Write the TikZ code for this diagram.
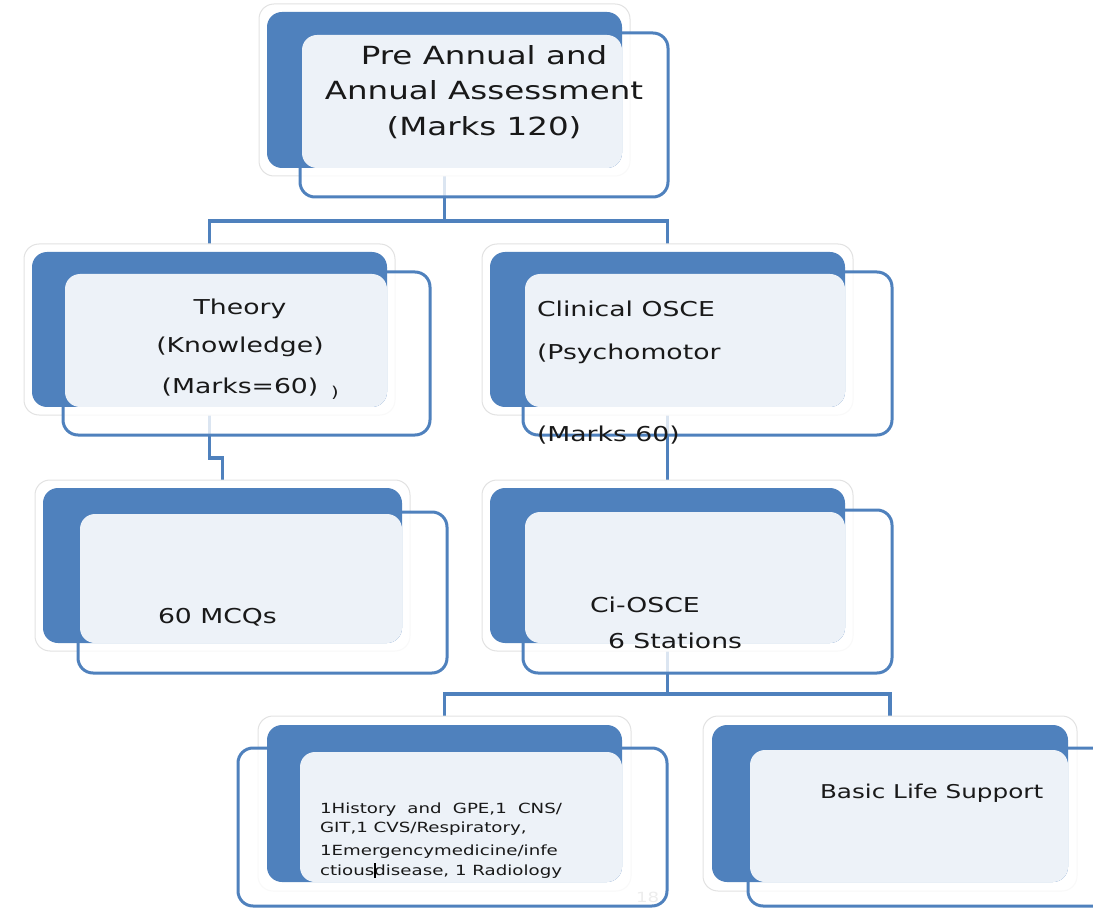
\documentclass[tikz,border=0pt]{standalone}
\usepackage{fontspec}
\setmainfont{DejaVu Sans}[FakeStretch=1.3]
\usetikzlibrary{fit,backgrounds}
\definecolor{ofblue}{RGB}{79,129,189}
\definecolor{panefill}{RGB}{237,242,248}
\definecolor{txt}{RGB}{25,25,25}
\definecolor{halo}{RGB}{226,226,226}
\tikzset{
  box/.style={inner sep=0pt, outer sep=0pt, rounded corners=15pt},
  glow/.style={box, fill=white, draw=halo, line width=1pt},
  back/.style={box, fill=ofblue},
  front/.style={box, draw=ofblue, line width=3pt, fill=white, fill opacity=0.8},
  pane/.style={box, fill=panefill},
  conn/.style={draw=ofblue, line width=3.5pt},
  lbl/.style={inner sep=0pt, outer sep=0pt, text=txt, anchor=base west},
  clbl/.style={lbl, anchor=base},
  big/.style={font=\fontsize{25}{30}\selectfont},
  mid/.style={font=\fontsize{20.5}{25}\selectfont},
  small/.style={font=\fontsize{14}{17}\selectfont},
}
\begin{document}
\begin{tikzpicture}[x=1pt,y=-1pt]
\useasboundingbox (0,0) rectangle (1093,909);
\clip (0,0) rectangle (1093,909);

% each box: halo, front frame, blue back plate, light pane, text

% top level
\node[glow,  fit={(259,4)(630,176)}]   (topG) {};
\node[front, fit={(300,33)(668,197)}]  (topF) {};
\node[back,  fit={(267,12)(622,168)}]  (topB) {};
\node[pane,  fit={(302,35)(622,168)}]  (topP) {};
\node[clbl, big] (topT1) at (484,65)  {Pre Annual and};
\node[clbl, big] (topT2) at (484,100) {Annual Assessment};
\node[clbl, big] (topT3) at (484,136) {(Marks 120)};

% theory
\node[glow,  fit={(24,244)(395,415)}]  (thG) {};
\node[front, fit={(63,272)(430,435)}]  (thF) {};
\node[back,  fit={(32,252)(387,407)}]  (thB) {};
\node[pane,  fit={(65,274)(387,407)}]  (thP) {};
\node[clbl, mid] (thT1) at (240,315) {Theory};
\node[clbl, mid] (thT2) at (240,353) {(Knowledge)};
\node[clbl, mid] (thT3) at (240,393) {(Marks=60)};
\node[lbl, font=\fontsize{15}{18}\selectfont] (thT4) at (331,398) {)};

% clinical
\node[glow,  fit={(482,244)(853,415)}] (clG) {};
\node[front, fit={(523,272)(892,435)}] (clF) {};
\node[back,  fit={(490,252)(845,407)}] (clB) {};
\node[pane,  fit={(525,274)(845,407)}] (clP) {};
\node[lbl, mid] (clT1) at (537,317) {Clinical OSCE};
\node[lbl, mid] (clT2) at (537,360) {(Psychomotor};
\node[lbl, mid] (clT3) at (537,442) {(Marks 60)};

% MCQs
\node[glow,  fit={(35,480)(410,651)}]  (mqG) {};
\node[front, fit={(78,512)(447,673)}]  (mqF) {};
\node[back,  fit={(43,488)(402,643)}]  (mqB) {};
\node[pane,  fit={(80,514)(402,643)}]  (mqP) {};
\node[lbl, mid] (mqT) at (158,623) {60 MCQs};

% Ci-OSCE
\node[glow,  fit={(482,480)(853,651)}] (ciG) {};
\node[front, fit={(523,510)(892,673)}] (ciF) {};
\node[back,  fit={(490,488)(845,643)}] (ciB) {};
\node[pane,  fit={(525,512)(845,643)}] (ciP) {};
\node[lbl, mid] (ciT1) at (590,612) {Ci-OSCE};
\node[lbl, mid] (ciT2) at (608,648) {6 Stations};

% stations
\node[glow,  fit={(258,716)(631,891)}] (hiG) {};
\node[front, fit={(238,748)(667,906)}] (hiF) {};
\node[back,  fit={(267,725)(622,882)}] (hiB) {};
\node[pane,  fit={(300,752)(622,882)}] (hiP) {};
\node[lbl, small] (hiT1) at (320,813) {\makebox[242pt][s]{1History and GPE,1 CNS/}};
\node[lbl, small] (hiT2) at (320,832) {GIT,1 CVS/Respiratory,};
\node[lbl, small] (hiT3) at (320,855) {1Emergencymedicine/infe};
\node[lbl, small] (hiT4) at (320,875) {ctiousdisease, 1 Radiology};
\node[lbl, font=\fontsize{14}{17}\selectfont, text=black!7] (pageno) at (636,902) {18};
\draw[line width=1.6pt, black] (375,863) -- (375,878);

% basic life support
\node[glow,  fit={(703,716)(1077,891)}] (blG) {};
\node[front, fit={(748,748)(1110,906)}] (blF) {};
\node[back,  fit={(712,725)(1068,882)}] (blB) {};
\node[pane,  fit={(750,750)(1068,882)}] (blP) {};
\node[lbl, font=\fontsize{19}{23}\selectfont] (blT) at (820,798) {Basic Life Support};

% connectors behind the boxes
\begin{scope}[on background layer]
  \draw[conn] (topB.south) -- ++(0,53) -| (thB.north);
  \draw[conn] (topB.south) -- ++(0,53) -| (clB.north);
  \draw[conn] (thB.south) -- ++(0,51) -| (mqB.north);
  \draw[conn] (clB.south) -- (ciB.north);
  \draw[conn] (ciB.south) -- ++(0,51) -| (hiB.north);
  \draw[conn] (ciB.south) -- ++(0,51) -| (blB.north);
\end{scope}
\end{tikzpicture}
\end{document}
